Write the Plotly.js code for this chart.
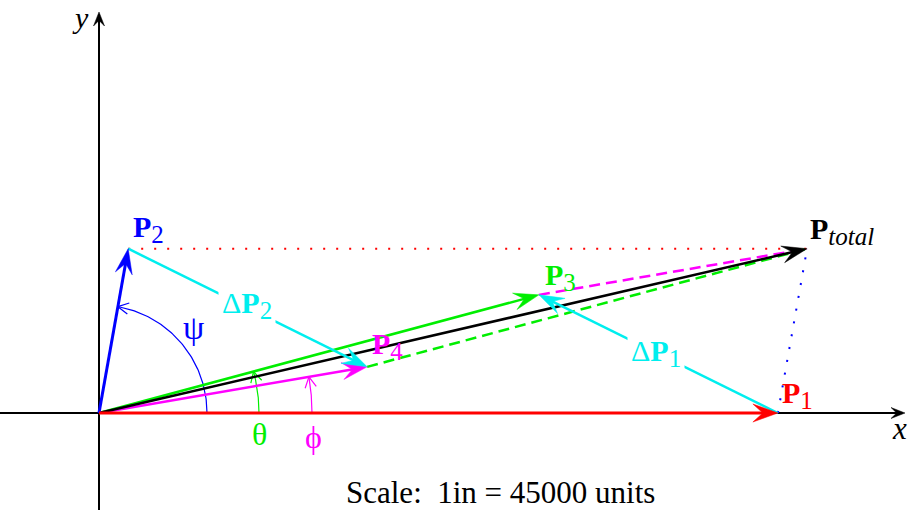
<!DOCTYPE html>
<html><head><meta charset="utf-8">
<script src="https://cdn.plot.ly/plotly-3.0.1.min.js"></script>
<style>html,body{margin:0;padding:0;background:#fff}</style>
</head><body><div id="chart" style="width:911px;height:510px"></div>
<script>
// ---- data: vector components (units) ----
const vectorNames = ['P1', 'P2', 'P3', 'P4', 'Ptotal'];
const P1 = [100000, 0];
const P2 = [4300, 24200];
const P3 = [64800, 17400];
const P4 = [39500, 6800];
const Ptotal = [104300, 24200];
const angleNames = ['ψ', 'θ', 'ϕ'];
const scaleText = 'Scale:  1in = 45000 units';

// ---- geometry / style ----
const W = 911, H = 510;
const K = 147.3;               // units per pixel
const ORIGIN_PX = [99, 413];
const xr = [-ORIGIN_PX[0] * K, (W - ORIGIN_PX[0]) * K];
const yr = [-(H - ORIGIN_PX[1]) * K, ORIGIN_PX[1] * K];
const O = [0, 0];
const GREEN = '#00ee00', MAG = '#ff00ff', CYAN = '#00eeee', RED = '#ff0000', BLUE = '#0000ff', BLACK = '#000000';
const FONT = 'Liberation Serif, Times New Roman, serif';

const add = (a, b) => [a[0] + b[0], a[1] + b[1]];
const sub = (a, b) => [a[0] - b[0], a[1] - b[1]];
const mul = (a, s) => [a[0] * s, a[1] * s];
const unit = a => { const l = Math.hypot(a[0], a[1]); return [a[0] / l, a[1] / l]; };
const pxToData = (x, y) => [(x - ORIGIN_PX[0]) * K, (ORIGIN_PX[1] - y) * K];

const traces = [];
const shapes = [];
const annotations = [];

function line(a, b, color, width, dash) {
  traces.push({ type: 'scatter', mode: 'lines', x: [a[0], b[0]], y: [a[1], b[1]],
    line: { color, width, dash: dash || 'solid' }, hoverinfo: 'skip', showlegend: false });
}
function stealth(from, to, color, Lpx, hwpx, notch) {
  const d = unit(sub(to, from)); const n = [-d[1], d[0]];
  const L = Lpx * K, hw = hwpx * K;
  const b = sub(to, mul(d, L));
  const c1 = add(b, mul(n, hw)), c2 = add(b, mul(n, -hw)), nt = sub(to, mul(d, L * notch));
  shapes.push({ type: 'path', xref: 'x', yref: 'y', layer: 'above',
    path: `M${to[0]},${to[1]} L${c1[0]},${c1[1]} L${nt[0]},${nt[1]} L${c2[0]},${c2[1]} Z`,
    fillcolor: color, line: { color, width: 0.5 } });
}
function arrow(from, to, color, width, L, hw) {
  const d = unit(sub(to, from));
  line(from, sub(to, mul(d, L * 0.5 * K)), color, width);
  stealth(from, to, color, L, hw, 0.6);
}
function arc(rpx, a1, color, width) {
  const r = rpx * K, xs = [], ys = [], N = 80;
  for (let i = 0; i <= N; i++) { const a = a1 * i / N; xs.push(r * Math.cos(a)); ys.push(r * Math.sin(a)); }
  traces.push({ type: 'scatter', mode: 'lines', x: xs, y: ys, line: { color, width }, hoverinfo: 'skip', showlegend: false });
  const tip = [r * Math.cos(a1), r * Math.sin(a1)];
  const t = [-Math.sin(a1), Math.cos(a1)];
  const arm = 12 * K, sp = 28 * Math.PI / 180;
  const rot = (v, s) => [v[0] * Math.cos(s) - v[1] * Math.sin(s), v[0] * Math.sin(s) + v[1] * Math.cos(s)];
  const e1 = sub(tip, mul(rot(t, sp), arm)), e2 = sub(tip, mul(rot(t, -sp), arm));
  traces.push({ type: 'scatter', mode: 'lines', x: [e1[0], tip[0], e2[0]], y: [e1[1], tip[1], e2[1]],
    line: { color, width: width }, hoverinfo: 'skip', showlegend: false });
}
const ang = v => Math.atan2(v[1], v[0]);

// axes
const xa0 = pxToData(0, ORIGIN_PX[1]), xa1 = pxToData(905, ORIGIN_PX[1]);
const ya0 = pxToData(ORIGIN_PX[0], H), ya1 = pxToData(ORIGIN_PX[0], 12);
arrow(xa0, xa1, BLACK, 2, 14, 5.5);
arrow(ya0, ya1, BLACK, 2, 14, 5.5);

// dotted construction lines
line(P2, Ptotal, RED, 2, '2px,11px');
line(P1, Ptotal, BLUE, 2, '2px,11px');

// dashed parallelogram sides
line(P4, Ptotal, GREEN, 2.5, '11px,6px');
line(P3, Ptotal, MAG, 2.5, '11px,6px');

// angle arcs
arc(108, ang(P2), BLUE, 1.2);
arc(160, ang(P3), GREEN, 1.2);
arc(213, ang(P4), MAG, 1.2);

// main vectors
arrow(O, P3, GREEN, 2.5, 25, 8.5);
arrow(O, P4, MAG, 2.5, 25, 8.5);
arrow(O, Ptotal, BLACK, 2.5, 25, 8.5);
arrow(O, P2, BLUE, 3, 25, 8.5);
arrow(O, P1, RED, 3, 25, 9);
// delta vectors
arrow(P1, P3, CYAN, 2.5, 25, 8.5);
arrow(P2, P4, CYAN, 2.5, 25, 8.5);

// labels
const subS = s => `<sub><span style="font-size:25px">${s}</span></sub>`;
function lab(p, text, color, xs, ys, opts) {
  annotations.push(Object.assign({ x: p[0], y: p[1], xref: 'x', yref: 'y', text, showarrow: false,
    xanchor: 'left', yanchor: 'middle', xshift: xs, yshift: ys,
    font: { family: FONT, size: 30, color } }, opts || {}));
}
lab(P1, '<b>P</b>' + subS('1'), RED, 2, 18);
lab(P2, '<b>P</b>' + subS('2'), BLUE, 3, 20);
lab(P3, '<b>P</b>' + subS('3'), GREEN, 4, 18);
lab(P4, '<b>P</b>' + subS('4'), MAG, 3, 21);
lab(Ptotal, '<b>P</b>' + subS('<i>total</i>'), BLACK, 1, 18);
const mid = (a, b) => mul(add(a, b), 0.5);
lab(mid(P2, P4), 'Δ<b>P</b>' + subS('2'), CYAN, -1, 3, { xanchor: 'center', bgcolor: '#ffffff', borderpad: 3 });
lab(mid(P1, P3), 'Δ<b>P</b>' + subS('1'), CYAN, -2, 1, { xanchor: 'center', bgcolor: '#ffffff', borderpad: 3 });
function txt(xpx, ypx, text, color, size, italic, yanchor) {
  const p = pxToData(xpx, ypx);
  annotations.push({ x: p[0], y: p[1], xref: 'x', yref: 'y', text: italic ? `<i>${text}</i>` : text, showarrow: false,
    xanchor: 'center', yanchor: yanchor || 'middle', borderpad: 0, font: { family: FONT, size, color } });
}
txt(193, 327, angleNames[0], BLUE, 34);
txt(259, 434, angleNames[1], GREEN, 32);
txt(313, 437, angleNames[2], MAG, 32);
txt(80, 0, 'y', BLACK, 30, true, 'top');
txt(899, 428, 'x', BLACK, 31, true);
txt(500, 492, scaleText, BLACK, 31);

const layout = {
  width: W, height: H, autosize: false,
  margin: { l: 0, r: 0, t: 0, b: 0, pad: 0 },
  paper_bgcolor: '#ffffff', plot_bgcolor: '#ffffff',
  xaxis: { range: xr, visible: false, fixedrange: true },
  yaxis: { range: yr, visible: false, fixedrange: true },
  showlegend: false, shapes, annotations
};
Plotly.newPlot('chart', traces, layout, { staticPlot: true, displayModeBar: false });
</script></body></html>
